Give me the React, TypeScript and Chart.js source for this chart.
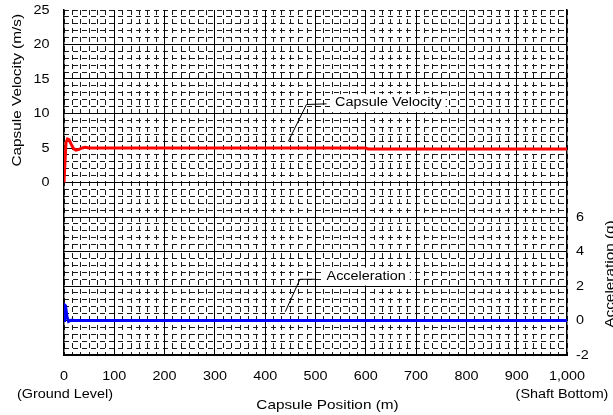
import React, { useEffect, useRef } from "react";
import { Chart, registerables } from "chart.js";
Chart.register(...registerables);

// ---- data ----
const velPosition = [0, 2, 4, 7, 10, 14, 19, 24, 30, 36, 42, 50, 600, 604, 1000];
const velocity = [0, 3, 5.8, 6.3, 6.2, 5.6, 4.9, 4.7, 4.8, 5.0, 5.1, 5.0, 5.0, 4.85, 4.85];
const accPosition = [0, 1, 3, 6, 9, 14, 22, 1000];
const acceleration = [0, 0.9, 0.85, 0.2, -0.05, 0.02, 0, 0];

// ---- ticks / grid ----
const xTickLabels = [0, 100, 200, 300, 400, 500, 600, 700, 800, 900, 1000];
const xMajorGrid = [100, 200, 300, 400, 500, 600, 700, 800, 900];
const xMinorGrid = Array.from({ length: 61 }, (_, i) => (i * 100) / 6);
const velTickLabels = [0, 5, 10, 15, 20, 25];
const velMajorGrid = [-20, -15, -10, -5, 0, 5, 10, 15, 20];
const velMinorGrid = Array.from({ length: 51 }, (_, i) => i - 25);
const accTickLabels = [-2, 0, 2, 4, 6];

// ---- annotations (data coordinates) ----
const velNoteX = [446, 482, 522];
const velNoteY = [5.96, 11.3, 11.4];
const velNoteText = "Capsule Velocity";
const velNoteAt = [539, 11.5];
const accNoteX = [440, 469, 499];
const accNoteY = [0.51, 2.39, 2.39];
const accNoteText = "Acceleration";
const accNoteAt = [522, 2.55];

const FONT = '"Liberation Sans", Arial, sans-serif';

function drawText(ctx: CanvasRenderingContext2D, text: string, x: number, y: number,
  o: { size?: number; sx?: number; align?: CanvasTextAlign; baseline?: CanvasTextBaseline; rotate?: number }) {
  ctx.save();
  ctx.translate(x, y);
  if (o.rotate) ctx.rotate(o.rotate);
  ctx.scale(o.sx ?? 1.2, 1);
  ctx.font = `${o.size ?? 12}px ${FONT}`;
  ctx.fillStyle = "#000";
  ctx.textAlign = o.align ?? "center";
  ctx.textBaseline = o.baseline ?? "middle";
  ctx.fillText(text, 0, 0);
  ctx.restore();
}

const textPlugin = {
  id: "textPlugin",
  afterDatasetsDraw(chart: any) {
    const ctx: CanvasRenderingContext2D = chart.ctx;
    const xs = chart.scales.x;
    const ys = chart.scales.y;
    const y2 = chart.scales.y2;

    const note = (nx: number[], ny: number[], sc: any, text: string, at: number[]) => {
      const tx = xs.getPixelForValue(at[0]);
      const ty = sc.getPixelForValue(at[1]);
      ctx.save();
      ctx.font = `12px ${FONT}`;
      const w = ctx.measureText(text).width * 1.2;
      ctx.fillStyle = "#fff";
      ctx.fillRect(tx - 5, ty - 9, w + 9, 18);
      ctx.strokeStyle = "#000";
      ctx.lineWidth = 1;
      ctx.beginPath();
      nx.forEach((v, i) => {
        const px = xs.getPixelForValue(v);
        const py = sc.getPixelForValue(ny[i]);
        if (i === 0) ctx.moveTo(px, py); else ctx.lineTo(px, py);
      });
      ctx.stroke();
      ctx.restore();
      drawText(ctx, text, tx, ty, { align: "left" });
    };
    note(velNoteX, velNoteY, ys, velNoteText, velNoteAt);
    note(accNoteX, accNoteY, y2, accNoteText, accNoteAt);
  },
  afterDraw(chart: any) {
    const ctx: CanvasRenderingContext2D = chart.ctx;
    const xs = chart.scales.x;
    const ys = chart.scales.y;
    const y2 = chart.scales.y2;
    const area = chart.chartArea;

    velTickLabels.forEach((v) =>
      drawText(ctx, String(v), area.left - 14.5, ys.getPixelForValue(v) + 0.5, { align: "right" })
    );
    accTickLabels.forEach((v) =>
      drawText(ctx, String(v), area.right + 9, y2.getPixelForValue(v) + 0.5, { align: "left" })
    );
    xTickLabels.forEach((v) =>
      drawText(ctx, v.toLocaleString("en-US"), xs.getPixelForValue(v), area.bottom + 22, {})
    );
    drawText(ctx, "(Ground Level)", xs.getPixelForValue(0) + 1, area.bottom + 40, {});
    drawText(ctx, "(Shaft Bottom)", xs.getPixelForValue(1000) - 5, area.bottom + 40, {});
    drawText(ctx, "Capsule Position (m)", (area.left + area.right) / 2 + 12, area.bottom + 50, { size: 13, sx: 1.18 });
    drawText(ctx, "Capsule Velocity (m/s)", 21, (ys.getPixelForValue(0) + ys.getPixelForValue(25)) / 2 - 6,
      { size: 13, sx: 1.18, rotate: -Math.PI / 2, baseline: "alphabetic" });
    drawText(ctx, "Acceleration (g)", 614, (y2.getPixelForValue(-2) + y2.getPixelForValue(6)) / 2 - 12,
      { size: 13, sx: 1.18, rotate: -Math.PI / 2, baseline: "alphabetic" });
  },
};

const setTicks = (arr: number[]) => (s: any) => {
  s.ticks = arr.map((value) => ({ value }));
};

export default function App() {
  const ref = useRef<HTMLCanvasElement>(null);
  useEffect(() => {
    if (!ref.current) return;
    const minorGrid = { color: "#1a1a1a", lineWidth: 1, drawTicks: false, z: -2, borderDash: [5, 4] };
    const minorBorder = { display: false, dash: [5, 4] };
    const chart = new Chart(ref.current, {
      type: "line",
      data: {
        datasets: [
          {
            label: "Capsule Velocity",
            data: velPosition.map((x, i) => ({ x, y: velocity[i] })),
            borderColor: "#ff0000",
            borderWidth: 3,
            pointRadius: 0,
            tension: 0,
            yAxisID: "y",
            xAxisID: "x",
          },
          {
            label: "Acceleration",
            data: accPosition.map((x, i) => ({ x, y: acceleration[i] })),
            borderColor: "#0000ff",
            borderWidth: 3,
            pointRadius: 0,
            tension: 0,
            yAxisID: "y2",
            xAxisID: "x",
          },
        ],
      },
      options: {
        responsive: false,
        animation: false,
        devicePixelRatio: 1,
        layout: { padding: { top: 10, left: 0, right: 0, bottom: 0 } },
        plugins: { legend: { display: false }, tooltip: { enabled: false } },
        scales: {
          xMinor: {
            type: "linear", position: "bottom", min: 0, max: 1000,
            afterBuildTicks: setTicks(xMinorGrid),
            ticks: { display: false },
            grid: minorGrid, border: minorBorder,
            afterFit: (s: any) => { s.height = 0; },
          },
          x: {
            type: "linear", position: "bottom", min: 0, max: 1000,
            afterBuildTicks: setTicks(xMajorGrid),
            ticks: { display: false },
            grid: { color: "#000", lineWidth: 1, drawTicks: false, z: -1 },
            border: { display: true, color: "#000", width: 2 },
            afterFit: (s: any) => { s.height = 60; },
          },
          yMinor: {
            type: "linear", position: "left", min: -25, max: 25,
            afterBuildTicks: setTicks(velMinorGrid),
            ticks: { display: false },
            grid: minorGrid, border: minorBorder,
            afterFit: (s: any) => { s.width = 0; },
          },
          y: {
            type: "linear", position: "left", min: -25, max: 25,
            afterBuildTicks: setTicks(velMajorGrid),
            ticks: { display: false },
            grid: { color: "#000", lineWidth: 1, drawTicks: false, z: -1 },
            border: { display: true, color: "#000", width: 1.5 },
            afterFit: (s: any) => { s.width = 64; },
          },
          y2: {
            type: "linear", position: "right", min: -2, max: 18,
            afterBuildTicks: setTicks(accTickLabels),
            ticks: { display: false },
            grid: { drawOnChartArea: false, drawTicks: false },
            border: { display: true, color: "#000", width: 1.5 },
            afterFit: (s: any) => { s.width = 46; },
          },
        },
      } as any,
      plugins: [textPlugin],
    });
    return () => chart.destroy();
  }, []);
  return (
    <div style={{ position: "absolute", left: 0, top: 0, width: 613, height: 415, background: "#fff" }}>
      <canvas ref={ref} width={613} height={415} style={{ display: "block" }} />
    </div>
  );
}
